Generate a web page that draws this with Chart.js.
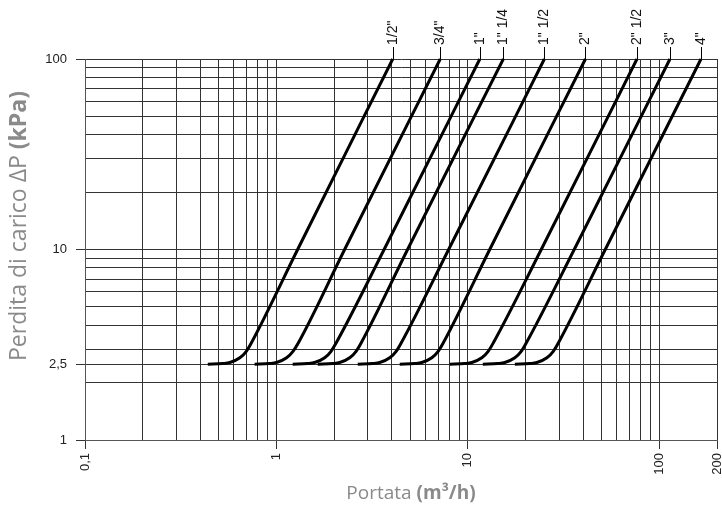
<!DOCTYPE html>
<html>
<head>
<meta charset="utf-8">
<script src="https://cdn.jsdelivr.net/npm/chart.js@4.4.1/dist/chart.umd.min.js"></script>
<style>
html, body { margin: 0; padding: 0; background: #fff; }
</style>
</head>
<body>
<canvas id="myChart" width="722" height="510"></canvas>
<script>
// pipe sizes (one curve each)
var sizes = ['1/2"', '3/4"', '1"', '1" 1/4', '1" 1/2', '2"', '2" 1/2', '3"', '4"'];

// pressure drop (kPa) of the points
var dp = [2.5, 2.52, 2.55, 2.7, 2.92, 3.23, 10, 100];

// flow rate (m3/h) at each of those points, one list per size
var q12  = [0.438, 0.525, 0.571, 0.644, 0.696, 0.739, 1.29, 4.05];
var q34  = [0.769, 0.922, 1.00, 1.13, 1.22, 1.30, 2.27, 7.17];
var q1   = [1.215, 1.456, 1.583, 1.786, 1.928, 2.049, 3.65, 11.54];
var q114 = [1.642, 1.967, 2.14, 2.414, 2.606, 2.768, 4.84, 15.31];
var q112 = [2.658, 3.184, 3.463, 3.907, 4.218, 4.481, 7.93, 25.08];
var q2   = [4.406, 5.278, 5.741, 6.477, 6.992, 7.429, 13.0, 41.1];
var q212 = [8.04, 9.63, 10.48, 11.82, 12.76, 13.56, 24.16, 76.4];
var q3   = [11.96, 14.33, 15.58, 17.58, 18.98, 20.16, 35.92, 113.6];
var q4   = [17.59, 21.07, 22.92, 25.86, 27.92, 29.66, 52.17, 165.0];
var flows = [q12, q34, q1, q114, q112, q2, q212, q3, q4];

// grid lines and labelled ticks
var xTicks = [0.1, 0.2, 0.3, 0.4, 0.5, 0.6, 0.7, 0.8, 0.9, 1, 2, 3, 4, 5, 6, 7, 8, 9,
              10, 20, 30, 40, 50, 60, 70, 80, 90, 100, 200];
var xLabels = [0.1, 1, 10, 100, 200];
var yTicks = [1, 2, 2.5, 3, 4, 5, 6, 7, 8, 9, 10, 20, 30, 40, 50, 60, 70, 80, 90, 100];
var yLabels = [1, 2.5, 10, 100];

function fmt(v) {
	return String(v).replace('.', ',');
}

var datasets = [];
for (var i in sizes) {
	var pts = [];
	for (var j in dp) {
		pts.push({x: flows[i][j], y: dp[j]});
	}
	datasets.push({
		label: sizes[i],
		data: pts,
		borderColor: '#000',
		borderWidth: 3,
		pointRadius: 0,
		fill: false,
		cubicInterpolationMode: 'monotone',
		clip: 6
	});
}

// size labels above the top end of every curve
var curveLabels = {
	id: 'curveLabels',
	afterDatasetsDraw: function(chart) {
		var ctx = chart.ctx;
		var top = chart.chartArea.top;
		ctx.save();
		ctx.strokeStyle = '#000';
		ctx.lineWidth = 1;
		ctx.fillStyle = '#111';
		ctx.font = '14px "Liberation Sans", Arial, sans-serif';
		ctx.textAlign = 'left';
		ctx.textBaseline = 'middle';
		chart.data.datasets.forEach(function(ds, i) {
			var meta = chart.getDatasetMeta(i);
			var p = meta.data[meta.data.length - 1];
			var x = Math.round(p.x) + 0.5;
			ctx.beginPath();
			ctx.moveTo(x, top);
			ctx.lineTo(x, top - 12);
			ctx.stroke();
			ctx.save();
			ctx.translate(p.x, top - 14);
			ctx.rotate(-Math.PI / 2);
			ctx.fillText(ds.label, 0, 0);
			ctx.restore();
		});
		ctx.restore();
	}
};

// axis titles with a bold unit part
function drawParts(ctx, parts, cx, cy) {
	var total = 0;
	parts.forEach(function(p) {
		ctx.font = p.font;
		p.w = ctx.measureText(p.text).width;
		total += p.w;
	});
	var x = cx - total / 2;
	parts.forEach(function(p) {
		ctx.font = p.font;
		ctx.fillText(p.text, x, cy);
		x += p.w;
	});
}

var axisTitles = {
	id: 'axisTitles',
	afterDraw: function(chart) {
		var ctx = chart.ctx;
		ctx.save();
		ctx.fillStyle = '#8a8a8a';
		ctx.textAlign = 'left';
		ctx.textBaseline = 'middle';
		drawParts(ctx, [
			{text: 'Portata ', font: '19px "Open Sans", sans-serif'},
			{text: '(m³/h)', font: 'bold 19px "Open Sans", sans-serif'}
		], 411, 494);
		ctx.translate(19, 226);
		ctx.rotate(-Math.PI / 2);
		drawParts(ctx, [
			{text: 'Perdita di carico ΔP ', font: '23px "Open Sans", sans-serif'},
			{text: '(kPa)', font: 'bold 23px "Open Sans", sans-serif'}
		], 0, 0);
		ctx.restore();
	}
};

var ctx = document.getElementById('myChart');

var lossChart = new Chart(ctx, {
	type: 'line',
	data: {datasets: datasets},
	options: {
		responsive: false,
		animation: false,
		layout: {padding: {top: 59, right: 5, left: 0, bottom: 0}},
		plugins: {
			legend: {display: false},
			tooltip: {enabled: false}
		},
		scales: {
			x: {
				type: 'logarithmic',
				position: 'bottom',
				min: 0.1,
				max: 200,
				afterBuildTicks: function(s) {
					s.ticks = xTicks.map(function(v) { return {value: v}; });
				},
				afterFit: function(s) {
					s.height = 70;
					s.paddingLeft = 0;
					s.paddingRight = 0;
				},
				ticks: {
					autoSkip: false,
					minRotation: 90,
					maxRotation: 90,
					padding: 4,
					color: '#222',
					font: {family: '"Liberation Sans", Arial, sans-serif', size: 13},
					callback: function(v) {
						return xLabels.indexOf(v) >= 0 ? fmt(v) : '';
					}
				},
				grid: {
					color: '#333',
					lineWidth: 1,
					tickLength: 9,
					tickColor: function(c) {
						return c.tick && xLabels.indexOf(c.tick.value) >= 0 ? '#333' : 'rgba(0,0,0,0)';
					}
				},
				border: {color: '#555', width: 1}
			},
			y: {
				type: 'logarithmic',
				position: 'left',
				min: 1,
				max: 100,
				afterBuildTicks: function(s) {
					s.ticks = yTicks.map(function(v) { return {value: v}; });
				},
				afterFit: function(s) {
					s.width = 85;
					s.paddingTop = 0;
					s.paddingBottom = 0;
				},
				ticks: {
					autoSkip: false,
					padding: 9,
					color: '#222',
					font: {family: '"Liberation Sans", Arial, sans-serif', size: 13},
					callback: function(v) {
						return yLabels.indexOf(v) >= 0 ? fmt(v) : '';
					}
				},
				grid: {
					color: '#333',
					lineWidth: 1,
					tickLength: 9,
					tickColor: function(c) {
						return c.tick && yLabels.indexOf(c.tick.value) >= 0 ? '#333' : 'rgba(0,0,0,0)';
					}
				},
				border: {color: '#555', width: 1}
			}
		}
	},
	plugins: [curveLabels, axisTitles]
});
</script>
</body>
</html>
